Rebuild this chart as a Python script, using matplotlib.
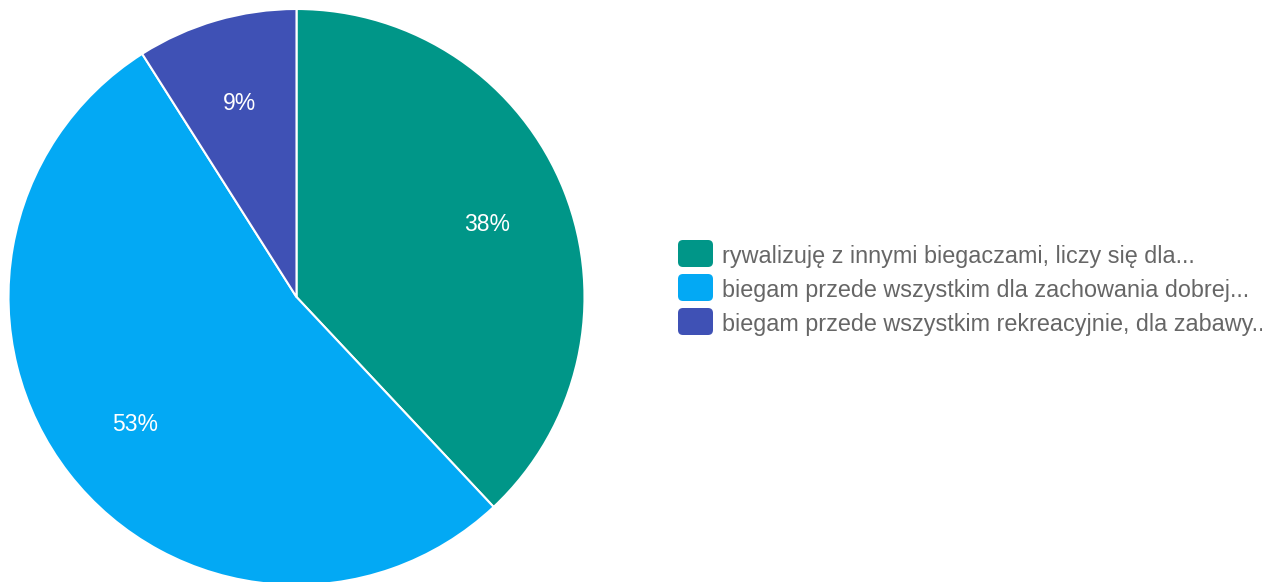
import matplotlib.pyplot as plt
from matplotlib.patches import FancyBboxPatch

plt.rcParams['font.family'] = ['Liberation Sans', 'DejaVu Sans']

labels = [
    "rywalizuję z innymi biegaczami, liczy się dla...",
    "biegam przede wszystkim dla zachowania dobrej...",
    "biegam przede wszystkim rekreacyjnie, dla zabawy...",
]
shares = [38, 53, 9]
colors = ["#009688", "#03a9f4", "#3f51b5"]

W, H = 1262, 582
fig = plt.figure(figsize=(W / 100, H / 100), dpi=100)

# pie axes, sized in pixels so the circle stays round
cx, cy, r = 296.5, 297, 288
ax = fig.add_axes([(cx - r) / W, (H - cy - r) / H, 2 * r / W, 2 * r / H])
wedges, _, pcts = ax.pie(shares, colors=colors, startangle=90, counterclock=False,
                         radius=1, autopct=lambda p: f"{p:.0f}%", pctdistance=0.71,
                         wedgeprops=dict(edgecolor="white", linewidth=1.5),
                         textprops=dict(color="white", fontsize=16.5))
for t in pcts:
    t.set_va("center_baseline")
ax.set_xlim(-1, 1)
ax.set_ylim(-1, 1)
ax.set_aspect("auto")
ax.axis("off")

# legend drawn by hand: rounded swatches + grey text
lax = fig.add_axes([0, 0, 1, 1])
lax.set_xlim(0, W)
lax.set_ylim(H, 0)
lax.axis("off")
y0, step = 253.5, 34
for i, (lab, col) in enumerate(zip(labels, colors)):
    y = y0 + i * step
    lax.add_patch(FancyBboxPatch((678, y - 13.5), 35, 27,
                                 boxstyle="round,pad=0,rounding_size=5",
                                 facecolor=col, edgecolor="none"))
    lax.text(722, y, lab, fontsize=16.8, color="#666666", va="center_baseline", ha="left")

fig.savefig("out.png", dpi=100)
